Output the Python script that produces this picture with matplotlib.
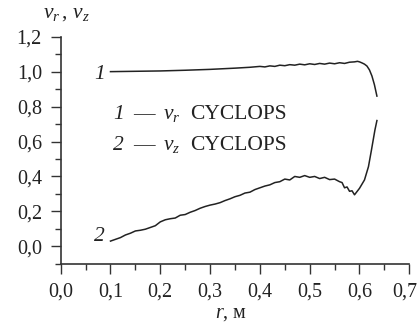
import matplotlib
matplotlib.use("Agg")
import matplotlib.pyplot as plt
from matplotlib.ticker import MultipleLocator, FuncFormatter
from matplotlib.transforms import ScaledTranslation

plt.rcParams['font.family'] = ['Liberation Serif', 'DejaVu Serif']
plt.rcParams['mathtext.fontset'] = 'custom'
plt.rcParams['mathtext.rm'] = 'Liberation Serif'
plt.rcParams['mathtext.it'] = 'Liberation Serif:italic'

# curve 1: nu_r
r1 = [0.10, 0.15, 0.20, 0.25, 0.30, 0.35, 0.38, 0.40, 0.41, 0.42, 0.43, 0.44,
      0.45, 0.46, 0.47, 0.48, 0.49, 0.50, 0.51, 0.52, 0.53, 0.54, 0.55, 0.56,
      0.57, 0.58, 0.59, 0.596, 0.60, 0.605, 0.61, 0.615, 0.62, 0.625, 0.63, 0.635]
v1 = [1.000, 1.002, 1.004, 1.008, 1.013, 1.020, 1.025, 1.030, 1.027, 1.033, 1.030, 1.037,
      1.034, 1.040, 1.037, 1.043, 1.039, 1.045, 1.041, 1.047, 1.043, 1.049, 1.045, 1.051,
      1.047, 1.054, 1.056, 1.059, 1.056, 1.050, 1.043, 1.032, 1.010, 0.975, 0.925, 0.860]

# curve 2: nu_z
r2 = [0.10, 0.11, 0.12, 0.13, 0.14, 0.15, 0.16, 0.17, 0.18, 0.19, 0.20, 0.21,
      0.22, 0.23, 0.24, 0.25, 0.26, 0.27, 0.28, 0.29, 0.30, 0.31, 0.32, 0.33,
      0.34, 0.35, 0.36, 0.37, 0.38, 0.39, 0.40, 0.41, 0.42, 0.43, 0.44, 0.45,
      0.46, 0.47, 0.48, 0.49, 0.50, 0.51, 0.52, 0.53, 0.54, 0.55, 0.56, 0.565,
      0.57, 0.575, 0.58, 0.585, 0.59, 0.60, 0.61, 0.618, 0.624, 0.631, 0.635]
v2 = [0.030, 0.040, 0.050, 0.065, 0.075, 0.088, 0.092, 0.098, 0.108, 0.118, 0.140, 0.152,
      0.158, 0.162, 0.178, 0.182, 0.195, 0.205, 0.218, 0.228, 0.236, 0.242, 0.250, 0.262,
      0.272, 0.284, 0.292, 0.305, 0.310, 0.325, 0.335, 0.345, 0.352, 0.365, 0.370, 0.385,
      0.380, 0.400, 0.395, 0.405, 0.395, 0.400, 0.388, 0.395, 0.382, 0.385, 0.370, 0.365,
      0.335, 0.340, 0.315, 0.318, 0.295, 0.332, 0.380, 0.456, 0.551, 0.666, 0.720]

C = '#222222'
fig = plt.figure(figsize=(4.2, 3.26), dpi=100)
ax = fig.add_axes([0.1445, 0.1908, 0.830, 0.6966])

ax.plot(r1, v1, color=C, lw=1.1)
ax.plot(r2, v2, color=C, lw=1.1)

ax.set_xlim(0, 0.7)
ax.set_ylim(-0.1, 1.2)
for s in ['top', 'right']:
    ax.spines[s].set_visible(False)
for s in ['left', 'bottom']:
    ax.spines[s].set_linewidth(1.2)
    ax.spines[s].set_color('#333333')

ax.xaxis.set_major_locator(MultipleLocator(0.1))
ax.xaxis.set_minor_locator(MultipleLocator(0.05))
ax.yaxis.set_major_locator(MultipleLocator(0.2))
ax.yaxis.set_minor_locator(MultipleLocator(0.1))
fmt = FuncFormatter(lambda v, p: f"{v:.1f}".replace('.', ',').replace('-0,0', '0,0'))
ax.xaxis.set_major_formatter(fmt)
ax.yaxis.set_major_formatter(fmt)
ax.tick_params(which='major', direction='out', length=7.5, width=1.0, labelsize=14.5,
               color='#333333', labelcolor=C)
ax.tick_params(which='minor', direction='out', length=4.5, width=1.0, color='#333333')
ax.tick_params(axis='x', which='major', pad=6)
ax.tick_params(axis='y', which='major', pad=6)

fig.text(43/420, 1 - 18/326, r"$\nu_r\,,\,\nu_z$", fontsize=15.5, ha='left', va='baseline',
         color=C)
fig.text(231/420, 1 - 318/326, r"$r$, м", fontsize=14.5, ha='center', va='baseline',
         color=C)

fs = 15.5
ax.text(0.089, 0.957, "1", fontstyle='italic', fontsize=fs, ha='right', va='baseline', color=C)
ax.text(0.089, 0.03, "2", fontstyle='italic', fontsize=fs, ha='right', va='baseline', color=C)

for lab, sub, yb in [("1", "r", 0.728), ("2", "z", 0.551)]:
    ax.text(0.105, yb, lab, fontstyle='italic', fontsize=fs, ha='left', va='baseline', color=C)
    ax.text(0.145, yb, "—", fontsize=fs, ha='left', va='baseline', color=C)
    ax.text(0.205, yb, rf"$\nu_{sub}$", fontsize=fs, ha='left', va='baseline', color=C)
    ax.text(0.260, yb, "CYCLOPS", fontsize=fs, ha='left', va='baseline', color=C)

# nudge the rightmost x tick label so it stays inside the canvas
fig.canvas.draw()
for t in ax.xaxis.get_major_ticks():
    if t.label1.get_text() == '0,7':
        t.label1.set_transform(t.label1.get_transform() +
                               ScaledTranslation(-4/100, 0, fig.dpi_scale_trans))

fig.savefig("out.png", dpi=100)
